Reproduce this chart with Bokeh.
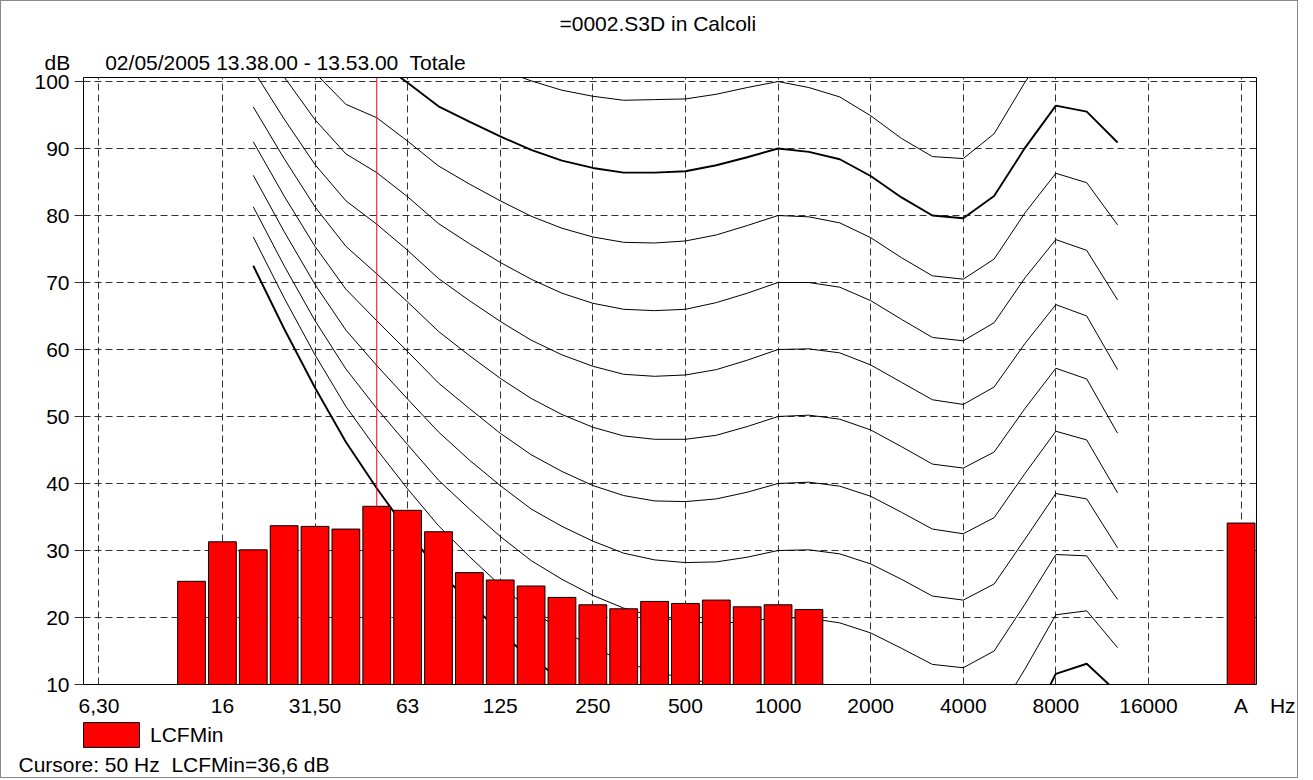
import numpy as np
from bokeh.plotting import figure
from bokeh.layouts import column
from bokeh.models import (Range1d, FixedTicker, Legend, LegendItem, Title, Label,
                          ColumnDataSource)
from bokeh.embed import file_html
from bokeh.resources import INLINE

# ---------------- data ----------------
bands = ["6,3", "8", "10", "12,5", "16", "20", "25", "31,5", "40", "50", "63", "80",
         "100", "125", "160", "200", "250", "315", "400", "500", "630", "800", "1000",
         "1250", "1600", "2000", "2500", "3150", "4000", "5000", "6300", "8000",
         "10000", "12500", "16000", "20000", "", "A"]
tick_bands = ["6,3", "16", "31,5", "63", "125", "250", "500", "1000", "2000",
              "4000", "8000", "16000", "A"]
tick_labels = ["6,30", "16", "31,50", "63", "125", "250", "500", "1000", "2000",
               "4000", "8000", "16000", "A"]
unit_label = "Hz"
y_ticks = [10, 20, 30, 40, 50, 60, 70, 80, 90, 100]

# LCFMin spectrum (dB); 10.0 = at / below the bottom of the scale, None = no value
lcfmin = [10.0, 10.0, 10.0, 25.4, 31.3, 30.1, 33.7, 33.6, 33.2, 36.6, 36.0, 32.8,
          26.7, 25.6, 24.7, 23.0, 21.9, 21.3, 22.4, 22.1, 22.6, 21.6, 21.9,
          21.2, 10.0, 10.0, 10.0, 10.0, 10.0, 10.0, 10.0, 10.0,
          10.0, 10.0, None, None, None, 34.1]
series_name = "LCFMin"

cursor_band = "50"
cursor_value = 36.6

title_text = "=0002.S3D in Calcoli"
subtitle_text = "02/05/2005 13.38.00 - 13.53.00\u00a0 Totale"
cursor_text = "Cursore: 50 Hz\u00a0 LCFMin=36,6 dB"

# isophonic contours, 20 Hz .. 12.5 kHz
iso_bands = bands[5:34]
phon_0 = [72.5, 63.1, 54.3, 46.2, 39.3, 32.9, 27.0, 22.3, 17.8, 13.8, 10.8, 8.1, 5.7, 3.9, 2.5,
          1.3, 0.5, 0.0, -0.7, -1.9, -3.5, -5.7, -8.1, -8.3, -5.4, 2.5, 11.6, 13.1, 8.8]
phon_10 = [76.8, 67.7, 59.2, 51.5, 45.1, 39.2, 33.7, 29.1, 24.8, 21.0, 18.1, 15.6, 13.4, 11.9, 10.9,
           10.1, 9.9, 10.0, 9.7, 8.7, 7.2, 5.0, 2.6, 2.2, 4.8, 12.3, 20.4, 21.0, 15.5]
phon_20 = [81.3, 72.5, 64.3, 57.1, 51.2, 45.8, 40.5, 36.2, 32.1, 28.5, 25.7, 23.3, 21.4, 20.1, 19.4,
           19.1, 19.4, 20.0, 19.9, 19.2, 17.7, 15.4, 13.0, 12.5, 15.0, 22.0, 29.4, 29.2, 22.7]
phon_30 = [86.0, 77.6, 69.7, 62.9, 57.6, 52.6, 47.7, 43.5, 39.7, 36.2, 33.6, 31.4, 29.6, 28.6, 28.2,
           28.3, 29.0, 30.0, 30.1, 29.5, 28.0, 25.7, 23.2, 22.6, 25.0, 31.7, 38.5, 37.7, 30.4]
phon_40 = [91.0, 82.9, 75.4, 69.0, 64.3, 59.7, 55.0, 51.2, 47.5, 44.3, 41.8, 39.7, 38.2, 37.4, 37.3,
           37.7, 38.7, 40.0, 40.2, 39.6, 38.1, 35.7, 33.2, 32.5, 34.9, 41.5, 47.8, 46.5, 38.6]
phon_50 = [96.2, 88.5, 81.3, 75.4, 71.3, 67.1, 62.7, 59.1, 55.7, 52.7, 50.3, 48.4, 47.1, 46.6, 46.6,
           47.2, 48.5, 50.0, 50.2, 49.6, 48.0, 45.5, 42.9, 42.3, 44.7, 51.2, 57.2, 55.6, 47.5]
phon_60 = [101.7, 94.4, 87.6, 82.2, 78.7, 74.8, 70.6, 67.3, 64.2, 61.4, 59.2, 57.5, 56.3, 56.0, 56.2,
           57.0, 58.4, 60.0, 60.1, 59.5, 57.7, 55.1, 52.5, 51.8, 54.4, 60.9, 66.7, 65.0, 57.0]
phon_70 = [107.6, 100.7, 94.3, 89.2, 86.4, 82.8, 78.8, 75.8, 73.0, 70.5, 68.4, 66.9, 66.0, 65.8, 66.0,
           67.0, 68.4, 70.0, 70.0, 69.3, 67.3, 64.5, 61.8, 61.3, 64.0, 70.7, 76.4, 74.8, 67.4]
phon_80 = [113.7, 107.3, 101.3, 96.6, 94.6, 91.1, 87.4, 84.7, 82.2, 79.9, 78.1, 76.8, 76.0, 75.9, 76.2,
           77.1, 78.5, 80.0, 79.8, 78.9, 76.7, 73.7, 71.0, 70.5, 73.5, 80.4, 86.3, 84.9, 78.6]
phon_90 = [120.3, 114.4, 108.7, 104.4, 103.2, 99.8, 96.3, 94.0, 91.8, 89.8, 88.2, 87.1, 86.4, 86.4, 86.6,
           87.5, 88.7, 90.0, 89.5, 88.4, 85.9, 82.7, 80.0, 79.6, 82.9, 90.1, 96.4, 95.5, 90.9]
phon_100 = [127.2, 121.9, 116.6, 112.6, 112.3, 108.9, 105.6, 103.6, 101.8, 100.1, 98.7, 97.8, 97.2, 97.3,
            97.4, 98.1, 99.1, 100.0, 99.1, 97.7, 94.9, 91.5, 88.8, 88.5, 92.2, 99.9, 106.6, 106.5, 104.3]

contours = [phon_0, phon_10, phon_20, phon_30, phon_40, phon_50,
            phon_60, phon_70, phon_80, phon_90, phon_100]
bold_contours = [0, 9]          # contours drawn with a heavier pen

# ---------------- style ----------------
FONT = "Liberation Sans"
FS = "21px"
NB = "\u00a0"
BAR_FILL = "#ff0000"
W = 1296
H1 = 718                     # main chart
H2 = 58                      # legend strip
ML, MR, MT, MB = 82, 41, 76, 34
Y0, Y1 = 10, 100.6
X0, X1 = -0.5, len(bands) - 0.5

# ---------------- main chart ----------------
p = figure(width=W, height=H1, output_backend="svg", toolbar_location=None, title=None,
           x_range=Range1d(X0, X1), y_range=Range1d(Y0, Y1),
           min_border_left=ML, min_border_right=MR, min_border_top=MT, min_border_bottom=MB)
p.frame_align = False
p.background_fill_color = "white"
p.border_fill_color = "white"
p.outline_line_color = "black"
p.outline_line_width = 1

pos = {b: i for i, b in enumerate(bands)}
tick_pos = [pos[b] for b in tick_bands]

# x axis: band labels, plus the unit written just right of the plot area
overrides = {pos[b]: lab for b, lab in zip(tick_bands, tick_labels)}
overrides[X1] = NB * 9 + unit_label
p.xaxis.ticker = FixedTicker(ticks=tick_pos + [X1])
p.xaxis.major_label_overrides = overrides
p.xaxis.major_tick_out = 0
p.xaxis.major_tick_in = 0
p.xaxis.minor_tick_out = 0
p.xaxis.minor_tick_in = 0
p.xaxis.axis_line_color = None
p.xaxis.major_label_standoff = 9
p.yaxis.ticker = FixedTicker(ticks=y_ticks)
p.yaxis.major_tick_out = 9
p.yaxis.major_tick_in = 0
p.yaxis.minor_tick_out = 0
p.yaxis.minor_tick_in = 0
p.yaxis.major_tick_line_color = "#333333"
p.yaxis.axis_line_color = None
p.yaxis.major_label_standoff = 5
for ax in (p.xaxis, p.yaxis):
    ax.major_label_text_font = FONT
    ax.major_label_text_font_size = FS
    ax.major_label_text_color = "black"

p.xgrid.ticker = FixedTicker(ticks=tick_pos)
p.ygrid.ticker = FixedTicker(ticks=y_ticks)
for g in (p.xgrid, p.ygrid):
    g.grid_line_color = "#333333"
    g.grid_line_dash = "7 4"
    g.grid_line_width = 1

# isophonic curves (behind the bars)
iso_x = [pos[b] for b in iso_bands]
for k, c in enumerate(contours):
    p.line(iso_x, c, line_color="black",
           line_width=1.9 if k in bold_contours else 1.0)

# bars
bar_top = [np.nan if v is None else v for v in lcfmin]
src = ColumnDataSource(dict(x=list(range(len(bands))), top=bar_top,
                            bottom=[0.0] * len(bands)))
p.vbar(x="x", top="top", bottom="bottom", width=0.9, source=src,
       fill_color=BAR_FILL, line_color="black", line_width=1)

# cursor
p.segment(x0=[pos[cursor_band]], y0=[cursor_value], x1=[pos[cursor_band]], y1=[Y1],
          line_color="#ff0000", line_width=1)


def title(text, offset, standoff, valign="middle"):
    return Title(text=text, align="left", offset=offset, standoff=standoff,
                 vertical_align=valign, text_font=FONT, text_font_size=FS,
                 text_font_style="normal", text_color="black")


# above: first added sits next to the plot area
p.add_layout(title("dB" + NB * 6 + subtitle_text, -39, 8, "bottom"), "above")
p.add_layout(title(title_text, 476, 16, "top"), "above")

# ---------------- legend strip (pixel-unit ranges) ----------------
q = figure(width=W, height=H2, output_backend="svg", toolbar_location=None, title=None,
           x_range=Range1d(0, W), y_range=Range1d(0, H2),
           x_axis_type=None, y_axis_type=None, min_border=0)
q.frame_align = False
q.outline_line_color = None
q.background_fill_color = "white"
q.border_fill_color = "white"
# legend key: the bar style, its single sample kept outside the visible strip
key = q.vbar(x=[-100], top=[-100], bottom=[-110], width=1,
             fill_color=BAR_FILL, line_color="black", line_width=1)
legend = Legend(items=[LegendItem(label=series_name, renderers=[key])],
                location=(75, 27), orientation="vertical", padding=0, margin=0,
                spacing=0, glyph_width=70, glyph_height=31, label_standoff=4,
                label_text_font=FONT, label_text_font_size=FS, label_text_color="black",
                border_line_color=None, background_fill_alpha=0)
q.add_layout(legend)
q.add_layout(Label(x=17, y=13, text=cursor_text, text_font=FONT, text_font_size=FS,
                   text_color="black", text_align="left", text_baseline="middle"))

layout = column(p, q, spacing=0, styles={"border": "1px solid #8a8a8a"})
open("out.html", "w").write(file_html(layout, INLINE))
